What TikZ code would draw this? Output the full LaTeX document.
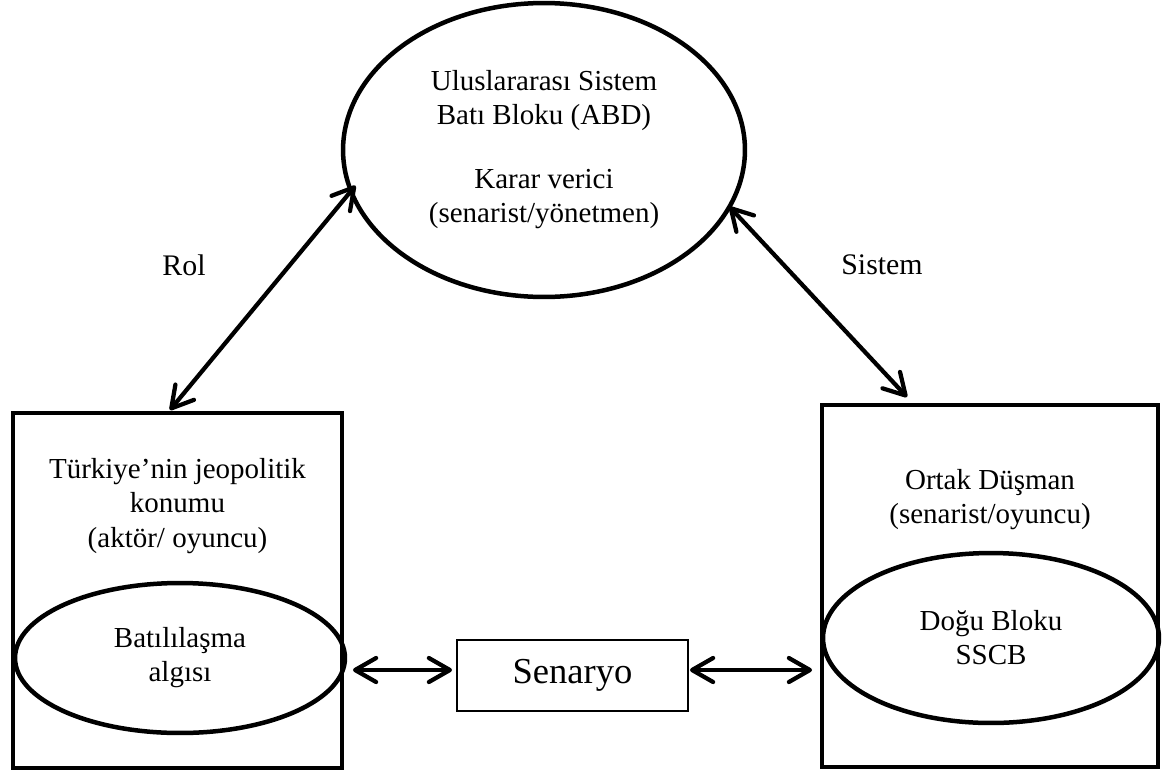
\documentclass[tikz,border=0pt]{standalone}
\usepackage{fontspec}
\setmainfont{Liberation Serif}
\usetikzlibrary{arrows.meta,shapes.geometric,calc}
\newcommand\mainfs{\fontsize{16.5}{19.4}\selectfont}
\newcommand\labfs{\fontsize{17}{20}\selectfont}
\newcommand\senfs{\fontsize{20.8}{24}\selectfont}
\begin{document}
\begin{tikzpicture}[x=0.02cm,y=-0.02cm,
  frame/.style={draw,line width=0.09cm,rectangle,inner sep=0pt,outer sep=0pt},
  oval/.style={draw,line width=0.09cm,ellipse,inner sep=0pt,outer sep=0pt,align=center,font=\mainfs},
  txt/.style={align=center,font=\mainfs,inner sep=0pt},
  lab/.style={font=\labfs,inner sep=0pt},
  tipb/.tip={Straight Barb[length=0.42cm,width=0.48cm,line cap=round,line join=round]},
  dbl/.style={line width=0.085cm,line cap=round,tipb-tipb}]
\useasboundingbox (0,0) rectangle (1173,775);

% top ellipse
\node[oval,minimum width=8.04cm,minimum height=5.88cm] (top) at (544,150)
  {Uluslararası Sistem\\Batı Bloku (ABD)\\[17pt]Karar verici\\(senarist/yönetmen)};

% left box
\node[frame,minimum width=6.58cm,minimum height=7.1cm] (lbox) at (177.5,590.5) {};
\node[txt] (ltext) at (177.5,506) {Türkiye’nin jeopolitik\\konumu\\(aktör/ oyuncu)};
\node[oval,minimum width=6.6cm,minimum height=3cm] (lell) at (180,658) {Batılılaşma\\algısı};

% right box
\node[frame,minimum width=6.72cm,minimum height=7.24cm] (rbox) at (990,586) {};
\node[txt] (rtext) at (990,500) {Ortak Düşman\\(senarist/oyuncu)};
\node[oval,minimum width=6.72cm,minimum height=3.4cm] (rell) at (991,638) {Doğu Bloku\\SSCB};

% scenario box
\node[draw,line width=0.85pt,rectangle,inner sep=0pt,outer sep=0pt,
  minimum width=4.62cm,minimum height=1.42cm,font=\senfs] (sen) at (572.5,675.5) {Senaryo};

% labels
\node[lab] (rol) at (184,265) {Rol};
\node[lab] (sis) at (882,265) {Sistem};

% connectors
\draw[dbl,shorten <=-0.14cm] (top.192) -- ($(lbox.north west)!0.477!(lbox.north east)+(0,-3)$);
\draw[dbl] (top.343) -- ($(rbox.north west)!0.253!(rbox.north east)+(0,-8)$);
\draw[dbl] ($(lell.east)+(8,12)$) -- ($(sen.west)+(-5,-5.5)$);
\draw[dbl] ($(sen.east)+(2,-5.5)$) -- ($(rell.west)+(-11,32)$);
\end{tikzpicture}
\end{document}
